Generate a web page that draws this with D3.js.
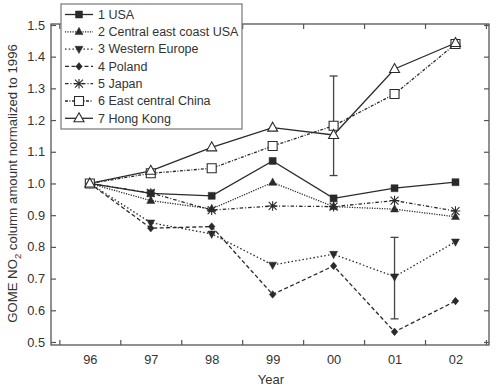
<!DOCTYPE html>
<html><head><meta charset="utf-8">
<script src="https://cdn.jsdelivr.net/npm/d3@7"></script>
<style>body{margin:0;background:#fff}svg{display:block}text{font-family:"Liberation Sans",Arial,sans-serif;fill:#333}</style>
</head><body><svg id="c" width="500" height="389"></svg>
<script>
const years = [96, 97, 98, 99, 100, 101, 102];
const yearLabels = ["96", "97", "98", "99", "00", "01", "02"];
const usa    = [1.0, 0.969, 0.961, 1.071, 0.953, 0.985, 1.004];
const cec    = [1.0, 0.946, 0.920, 1.003, 0.927, 0.919, 0.895];
const weur   = [1.0, 0.876, 0.841, 0.743, 0.777, 0.706, 0.816];
const poland = [1.0, 0.859, 0.864, 0.650, 0.740, 0.532, 0.629];
const japan  = [1.0, 0.970, 0.916, 0.929, 0.927, 0.946, 0.913];
const china  = [1.0, 1.032, 1.048, 1.118, 1.182, 1.282, 1.440];
const hk     = [1.0, 1.040, 1.114, 1.176, 1.153, 1.361, 1.443];
const seriesNames = ["1 USA", "2 Central east coast USA", "3 Western Europe", "4 Poland", "5 Japan", "6 East central China", "7 Hong Kong"];
const errX  = [100, 101];
const errLo = [1.025, 0.573];
const errHi = [1.339, 0.830];
const yTicks = [0.5, 0.6, 0.7, 0.8, 0.9, 1.0, 1.1, 1.2, 1.3, 1.4, 1.5];
const xMinor = [95.5, 96.5, 97.5, 98.5, 99.5, 100.5, 101.5, 102.5];

const series = [
  {name: seriesNames[0], vals: usa,    dash: null,        marker: "sqf"},
  {name: seriesNames[1], vals: cec,    dash: "1.2,1.3",   marker: "triup"},
  {name: seriesNames[2], vals: weur,   dash: "1.5,2.2",   marker: "tridn"},
  {name: seriesNames[3], vals: poland, dash: "4,2.5",     marker: "dia"},
  {name: seriesNames[4], vals: japan,  dash: "3.5,2,1,2", marker: "star"},
  {name: seriesNames[5], vals: china,  dash: "3,1.5,1,1.5", marker: "sqo"},
  {name: seriesNames[6], vals: hk,     dash: null,        marker: "trio"}
];

const L = 51, R = 489, T = 24, B = 345;
const x = d3.scaleLinear().domain([95.363, 102.55]).range([L, R]);
const y = d3.scaleLinear().domain([0.4905, 1.503]).range([B, T]);
const svg = d3.select("#c");
const ink = "#2a2a2a", frame = "#555";

// frame
svg.append("rect").attr("x", L).attr("y", T).attr("width", R - L).attr("height", B - T)
  .attr("fill", "none").attr("stroke", frame).attr("stroke-width", 1.3);

// axes
const yAxisL = d3.axisLeft(y).tickValues(yTicks).tickSize(-5).tickPadding(6).tickFormat(d3.format(".1f"));
const gy = svg.append("g").attr("transform", `translate(${L},0)`).call(yAxisL);
const yAxisR = d3.axisRight(y).tickValues(yTicks).tickSize(-5).tickFormat("");
const gyr = svg.append("g").attr("transform", `translate(${R},0)`).call(yAxisR);
const xAxisB = d3.axisBottom(x).tickValues(xMinor).tickSize(-5).tickFormat("");
const gxb = svg.append("g").attr("transform", `translate(0,${B})`).call(xAxisB);
const xAxisT = d3.axisTop(x).tickValues(xMinor).tickSize(-5).tickFormat("");
const gxt = svg.append("g").attr("transform", `translate(0,${T})`).call(xAxisT);
const xLab = d3.axisBottom(x).tickValues(years).tickSize(0).tickPadding(10).tickFormat((d, i) => yearLabels[i]);
const gxl = svg.append("g").attr("transform", `translate(0,${B})`).call(xLab);
[gy, gyr, gxb, gxt, gxl].forEach(g => {
  g.select(".domain").remove();
  g.selectAll(".tick line").attr("stroke", frame).attr("stroke-width", 1.2);
  g.selectAll("text").attr("font-size", 12.8).attr("fill", "#333")
    .style("font-family", '"Liberation Sans", Arial, sans-serif');
});

// axis titles
svg.append("text").attr("x", 271).attr("y", 384).attr("text-anchor", "middle").attr("font-size", 13).text("Year");
const yt = svg.append("text").attr("transform", `translate(17,${(T + B) / 2 - 1}) rotate(-90)`)
  .attr("text-anchor", "middle").attr("font-size", 13.2);
yt.append("tspan").text("GOME NO");
yt.append("tspan").attr("font-size", 9.5).attr("dy", 4).text("2");
yt.append("tspan").attr("dy", -4).text(" column amount normalized to 1996");

// markers
function drawMarker(g, type, cx, cy) {
  const s = g.append("path").attr("transform", `translate(${cx},${cy})`).attr("stroke", ink);
  if (type === "sqf") s.attr("d", "M-3.5,-3.5H3.5V3.5H-3.5Z").attr("fill", ink).attr("stroke-width", 0.5);
  else if (type === "sqo") s.attr("d", "M-4.5,-4.5H4.5V4.5H-4.5Z").attr("fill", "#fff").attr("stroke-width", 1.1);
  else if (type === "triup") s.attr("d", "M0,-4.5L4,2.8H-4Z").attr("fill", ink).attr("stroke-width", 0.5);
  else if (type === "tridn") s.attr("d", "M0,4.5L4,-2.8H-4Z").attr("fill", ink).attr("stroke-width", 0.5);
  else if (type === "dia") s.attr("d", "M0,-3.8L3.3,0L0,3.8L-3.3,0Z").attr("fill", ink).attr("stroke-width", 0.5);
  else if (type === "trio") s.attr("d", "M0,-5.5L5,3.5H-5Z").attr("fill", "#fff").attr("stroke-width", 1.1);
  else if (type === "star") s.attr("d", "M-4,-4L4,4M-4,4L4,-4M0,-4.8V4.8M-4.8,0H4.8").attr("fill", "none").attr("stroke-width", 1.1);
}

const line = d3.line().x((d, i) => x(years[i])).y(d => y(d));
const plot = svg.append("g");
series.forEach(s => {
  plot.append("path").datum(s.vals).attr("d", line).attr("fill", "none")
    .attr("stroke", ink).attr("stroke-width", 1.3)
    .attr("stroke-dasharray", s.dash);
});
// error bars
errX.forEach((ex, i) => {
  const g = plot.append("g").attr("stroke", "#444").attr("stroke-width", 1.3);
  g.append("line").attr("x1", x(ex)).attr("x2", x(ex)).attr("y1", y(errLo[i])).attr("y2", y(errHi[i]));
  g.append("line").attr("x1", x(ex) - 4).attr("x2", x(ex) + 4).attr("y1", y(errLo[i])).attr("y2", y(errLo[i]));
  g.append("line").attr("x1", x(ex) - 4).attr("x2", x(ex) + 4).attr("y1", y(errHi[i])).attr("y2", y(errHi[i]));
});
series.forEach(s => {
  s.vals.forEach((v, i) => drawMarker(plot, s.marker, x(years[i]), y(v)));
});

// legend
const lg = svg.append("g");
lg.append("rect").attr("x", 61).attr("y", 4).attr("width", 181).attr("height", 125)
  .attr("fill", "#fff").attr("stroke", "#777").attr("stroke-width", 1.2);
series.forEach((s, i) => {
  const ly = 14.5 + i * 17.3;
  lg.append("line").attr("x1", 65).attr("x2", 93).attr("y1", ly).attr("y2", ly)
    .attr("stroke", ink).attr("stroke-width", 1.3).attr("stroke-dasharray", s.dash);
  drawMarker(lg, s.marker, 79, ly);
  lg.append("text").attr("x", 98).attr("y", ly + 4.3).attr("font-size", 12.5).text(s.name);
});
</script></body></html>
